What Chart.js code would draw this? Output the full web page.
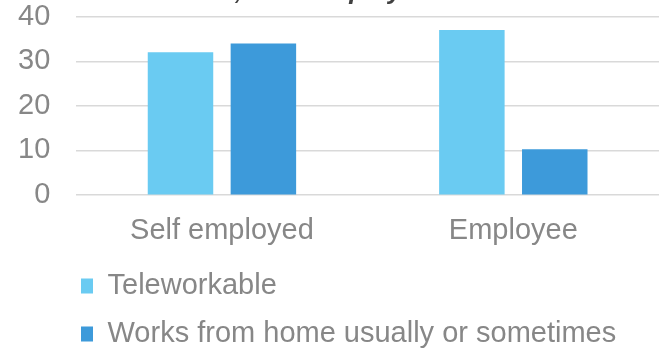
<!DOCTYPE html>
<html>
<head>
<meta charset="utf-8">
<script src="https://cdn.jsdelivr.net/npm/chart.js@4.4.1/dist/chart.umd.min.js"></script>
<style>
  html, body { margin: 0; padding: 0; background: #ffffff; }
  #wrap { width: 664px; height: 349px; position: relative; }
</style>
</head>
<body>
<div id="wrap"><canvas id="c"></canvas></div>
<script>
const categories = ["Self employed", "Employee"];
const seriesNames = ["Teleworkable", "Works from home usually or sometimes"];
const teleworkable = [32, 37];
const worksFromHome = [34, 10.3];
const yTicks = [0, 10, 20, 30, 40];
const titleText = "Share of workers, % of employment";

const FONT = "'Liberation Sans', Arial, sans-serif";
const GRAY = "#878787";

const partialTitle = {
  id: "partialTitle",
  afterDraw(chart) {
    const ctx = chart.ctx;
    ctx.save();
    ctx.font = "italic bold 26px " + FONT;
    ctx.fillStyle = "#404040";
    ctx.textAlign = "left";
    ctx.textBaseline = "alphabetic";
    const prefix = titleText.split(",")[0];
    const x = 235 - ctx.measureText(prefix).width;
    ctx.fillText(titleText, x, -1);
    ctx.restore();
  }
};

const legendPlace = {
  id: "legendPlace",
  afterLayout(chart) {
    const lg = chart.legend;
    if (lg) {
      const w = lg.width, h = lg.height;
      lg.left = 62; lg.right = lg.left + w;
      lg.top = 252.5; lg.bottom = lg.top + h;
    }
  }
};

new Chart(document.getElementById("c"), {
  type: "bar",
  data: {
    labels: categories,
    datasets: [
      { label: seriesNames[0], data: teleworkable, backgroundColor: "#6ACBF2" },
      { label: seriesNames[1], data: worksFromHome, backgroundColor: "#3D9ADA" }
    ]
  },
  options: {
    responsive: true,
    maintainAspectRatio: false,
    animation: false,
    layout: { padding: { left: 18, right: 5, top: 0, bottom: -5.5 } },
    datasets: { bar: { categoryPercentage: 0.569, barPercentage: 0.79 } },
    scales: {
      x: {
        grid: { display: true, color: "rgba(0,0,0,0)", drawTicks: true, tickLength: 18.6, tickColor: "rgba(0,0,0,0)" },
        border: { display: false },
        ticks: { color: GRAY, font: { family: FONT, size: 29 }, padding: 0 }
      },
      y: {
        min: 0, max: 40,
        afterBuildTicks(scale) { scale.ticks = yTicks.map(v => ({ value: v })); },
        grid: { color: "#d9d9d9", lineWidth: 1.4, drawTicks: true, tickLength: 26, tickColor: "rgba(0,0,0,0)" },
        border: { display: false },
        ticks: { color: GRAY, font: { family: FONT, size: 29, lineHeight: 1.15 }, padding: 0, autoSkip: false }
      }
    },
    plugins: {
      legend: {
        position: "bottom",
        align: "start",
        labels: {
          color: GRAY,
          font: { family: FONT, size: 29 },
          boxWidth: 12, boxHeight: 15,
          padding: 19
        }
      },
      tooltip: { enabled: false },
      title: { display: false }
    }
  },
  plugins: [partialTitle, legendPlace]
});
</script>
</body>
</html>
